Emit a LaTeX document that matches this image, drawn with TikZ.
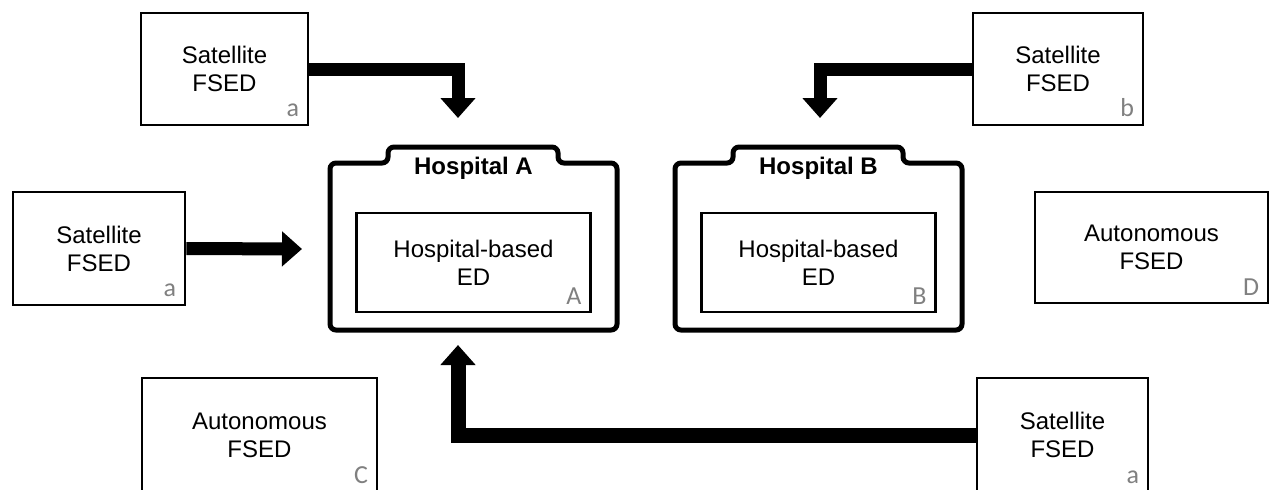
\documentclass[tikz,border=0pt]{standalone}
\usepackage{fontspec}
\setmainfont{Liberation Sans}
\newfontfamily\tagfont{Carlito}
\usetikzlibrary{arrows.meta}

\begin{document}
\begin{tikzpicture}[x=0.5pt,y=-0.5pt,
  fsed/.style={draw,line width=1.4pt,align=center,inner sep=0pt,minimum height=56pt,font=\fontsize{12}{14}\selectfont},
  tag/.style={anchor=south east,xshift=-5pt,yshift=4.5pt,inner sep=0pt,text=black!50,font=\tagfont\fontsize{13}{13}\selectfont},
  fat/.style={line width=6.5pt,-{Triangle[width=17pt,length=10pt]}}]
\useasboundingbox (0,0) rectangle (1270,489);

% the two hospitals, each with its ED inside
\foreach \x/\h in {330/A,675/B}{
\draw[line width=2.5pt,rounded corners=3pt] (\x,330) -- (\x,163) -- (\x+58,163) -- (\x+58,147) -- (\x+228,147) -- (\x+228,163) -- (\x+287,163) -- (\x+287,330) -- cycle;
\node[anchor=base,inner sep=0pt,font=\bfseries\fontsize{12}{14}\selectfont] (hosp\h) at (\x+143.5,174) {Hospital \h};
\node[fsed,minimum width=117pt,minimum height=49.5pt] (ed\h) at (\x+143.5,262.5) {Hospital-based\\ED};
\node[tag] (ed\h-tag) at (ed\h.south east) {\h};
}

% free-standing EDs
\node[fsed,minimum width=83.5pt] (satTL) at (224.5,69) {Satellite\\FSED};
\node[tag] (satTL-tag) at (satTL.south east) {a};
\node[fsed,minimum width=86pt,minimum height=56.5pt] (satL) at (99,248.5) {Satellite\\FSED};
\node[tag] (satL-tag) at (satL.south east) {a};
\node[fsed,minimum width=85pt] (satTR) at (1058,69) {Satellite\\FSED};
\node[tag] (satTR-tag) at (satTR.south east) {b};
\node[fsed,minimum width=85.5pt,minimum height=57pt] (satBR) at (1062.5,435) {Satellite\\FSED};
\node[tag] (satBR-tag) at (satBR.south east) {a};
\node[fsed,minimum width=117.5pt,minimum height=57pt] (autC) at (259.5,435) {Autonomous\\FSED};
\node[tag] (autC-tag) at (autC.south east) {C};
\node[fsed,minimum width=116.5pt,minimum height=55.5pt] (autD) at (1151.5,247.5) {Autonomous\\FSED};
\node[tag] (autD-tag) at (autD.south east) {D};

% arrow tips
\coordinate (inA) at (458,118);
\coordinate (inB) at (820,118);
\coordinate (inL) at (302,249);
\coordinate (upA) at (458,345);

\draw[fat] (satTL.east) -| (inA);
\draw[fat] (satTR.west) -| (inB);
\draw[fat] (satL.east) -- (inL);
\draw[fat,line width=7.5pt] (satBR.west) -| (upA);
\end{tikzpicture}
\end{document}
